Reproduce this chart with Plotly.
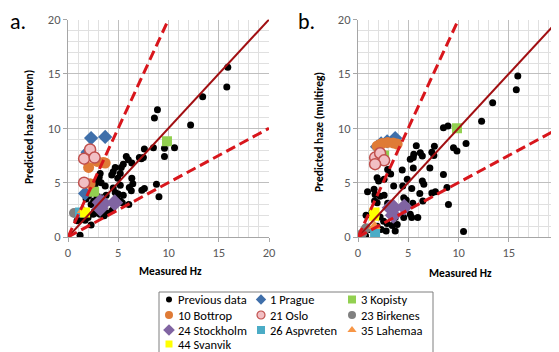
import plotly.graph_objects as go

# ---------------- data ----------------
# Panel a: neuron model
prev_a_x = [1.2, 2.3, 15.9, 15.8, 13.4, 8.9, 8.6, 12.2, 10.6, 9.6, 9.6, 8.5, 7.6, 7.5, 7.1,
            5.8, 6.0, 6.35, 5.5, 5.3, 4.7, 4.5, 5.2, 4.35, 4.95, 3.2, 3.1, 2.9, 3.3, 3.7,
            6.35, 6.45, 6.1, 6.3, 7.35, 7.6, 8.8, 9.05, 4.5, 4.7, 5.0, 5.2, 5.5, 4.85, 5.2,
            5.4, 6.05, 4.4, 3.8, 3.4, 2.9, 2.55, 2.3, 2.05, 1.8, 2.65, 2.5, 2.9, 3.2, 3.6,
            3.9, 2.0, 1.7, 1.2, 0.9, 2.7, 7.3, 3.0]
prev_a_y = [0.15, 1.1, 15.6, 13.8, 12.9, 11.7, 10.95, 10.3, 8.2, 8.15, 7.4, 8.2, 8.1, 7.3, 7.3,
            7.4, 7.1, 6.8, 6.7, 6.4, 6.4, 6.0, 5.85, 5.7, 5.4, 5.85, 5.5, 5.2, 5.0, 4.7,
            5.4, 4.9, 4.55, 4.25, 4.3, 4.45, 4.85, 3.7, 4.5, 4.1, 3.95, 4.75, 3.85, 3.6, 3.3,
            3.15, 3.0, 2.45, 3.85, 3.6, 3.75, 3.3, 3.0, 3.8, 3.5, 2.4, 2.1, 2.2, 2.1, 1.95,
            2.2, 1.8, 1.55, 1.6, 1.5, 4.85, 7.2, 2.8]

prague_a_x = [2.3, 3.7, 1.95, 1.7]
prague_a_y = [9.1, 9.2, 7.8, 4.0]
kopisty_a_x = [9.85, 2.6]
kopisty_a_y = [8.8, 4.15]
bottrop_a_x = [2.05, 2.9, 3.7, 3.5, 2.2]
bottrop_a_y = [6.4, 6.95, 6.8, 6.85, 4.9]
oslo_a_x = [1.6, 2.2, 2.65, 1.6]
oslo_a_y = [7.2, 8.05, 7.3, 5.0]
birkenes_a_x = [0.6]
birkenes_a_y = [2.2]
stockholm_a_x = [3.2, 3.5, 3.2, 4.65]
stockholm_a_y = [3.2, 3.1, 2.65, 3.15]
aspvreten_a_x = [1.2]
aspvreten_a_y = [2.25]
lahemaa_a_x = [1.5]
lahemaa_a_y = [2.45]
svanvik_a_x = [1.7]
svanvik_a_y = [2.25]

# Panel b: multiple regression model
prev_b_x = [15.9, 15.75, 13.4, 12.3, 8.95, 8.5, 10.75, 9.5, 9.85, 7.6, 7.35, 7.55, 5.8, 6.2,
            6.4, 5.55, 5.2, 7.15, 4.4, 5.5, 2.95, 3.25, 1.9, 2.05, 2.6, 4.9, 4.45, 3.55, 6.4,
            6.55, 8.5, 8.85, 9.0, 10.5, 7.35, 7.7, 6.15, 6.45, 5.35, 5.45, 4.55, 4.8, 5.2,
            5.35, 5.95, 4.55, 0.95, 1.6, 1.7, 2.2, 2.6, 1.65, 1.9, 2.95, 3.2, 0.8, 1.4, 2.2,
            2.55, 2.9, 3.4, 3.7, 2.8, 2.3, 1.9, 3.9, 3.7, 0.75, 1.15, 5.5]
prev_b_y = [14.8, 13.55, 12.35, 10.65, 10.2, 10.05, 8.6, 8.2, 7.9, 8.35, 7.8, 7.5, 8.4, 7.75,
            7.45, 7.6, 7.15, 6.35, 6.15, 6.35, 6.2, 5.8, 5.45, 5.15, 5.3, 5.3, 4.7, 4.7, 5.15,
            4.85, 5.75, 4.55, 3.0, 0.5, 4.05, 4.15, 4.0, 3.3, 4.45, 3.1, 3.6, 3.4, 2.1,
            1.8, 1.8, 1.8, 4.15, 4.4, 3.9, 3.75, 3.85, 3.3, 3.15, 3.1, 2.55, 2.0, 2.3, 1.85,
            1.45, 1.25, 1.05, 0.55, 0.55, 0.7, 1.0, 1.15, 1.8, 0.1, 0.7, 7.3]

prague_b_x = [2.3, 1.9, 3.7, 2.9]
prague_b_y = [8.6, 8.3, 9.1, 8.8]
kopisty_b_x = [9.85, 2.6]
kopisty_b_y = [10.0, 7.5]
bottrop_b_x = [1.9, 2.4, 2.95, 3.5, 3.9, 2.1]
bottrop_b_y = [8.35, 8.6, 8.7, 8.65, 8.55, 8.45]
oslo_b_x = [1.7, 2.2, 2.6, 1.7]
oslo_b_y = [7.3, 7.7, 7.05, 6.7]
birkenes_b_x = [0.4, 0.8]
birkenes_b_y = [0.3, 0.8]
stockholm_b_x = [3.2, 3.55, 3.5, 4.6]
stockholm_b_y = [2.7, 2.7, 2.0, 2.75]
aspvreten_b_x = [1.7]
aspvreten_b_y = [0.4]
lahemaa_b_x = [1.65]
lahemaa_b_y = [1.0]
svanvik_b_x = [1.65, 1.6]
svanvik_b_y = [2.25, 1.95]

# Reference lines (1:1, 2:1, 1:2)
line_11_x = [0, 20]
line_11_y = [0, 20]
line_21_x = [0, 10]
line_21_y = [0, 20]
line_12_x = [0, 20]
line_12_y = [0, 10]

axis_ticks = [0, 5, 10, 15, 20]
legend_labels = ["Previous data", "1 Prague", "3 Kopisty", "10 Bottrop", "21 Oslo",
                 "23 Birkenes", "24 Stockholm", "26 Aspvreten", "35 Lahemaa", "44 Svanvik"]

# ---------------- styles ----------------
FONT = "Carlito, Lato, Liberation Sans, sans-serif"
PAGE_W, PAGE_H = 559, 352
OFF = 8                      # default page body margin
W, H = PAGE_W - OFF, PAGE_H - OFF

series_style = {
    "Previous data": dict(symbol="circle", color="#000000", size=7, line=dict(width=0)),
    "1 Prague": dict(symbol="diamond", color="#3F6FAA", size=11, line=dict(width=0)),
    "3 Kopisty": dict(symbol="square", color="#92D050", size=10, line=dict(width=0)),
    "10 Bottrop": dict(symbol="circle", color="#DF7B36", size=11, line=dict(width=0)),
    "21 Oslo": dict(symbol="circle", color="#F2BFC4", size=11, line=dict(width=1.5, color="#C0504D")),
    "23 Birkenes": dict(symbol="circle", color="#808080", size=10, line=dict(width=0)),
    "24 Stockholm": dict(symbol="diamond", color="#8064A2", size=13, line=dict(width=0)),
    "26 Aspvreten": dict(symbol="square", color="#4BACC6", size=10, line=dict(width=0)),
    "35 Lahemaa": dict(symbol="triangle-up", color="#F79646", size=11, line=dict(width=0)),
    "44 Svanvik": dict(symbol="square", color="#FFFF00", size=10, line=dict(width=0)),
}

panel_a = {
    "Previous data": (prev_a_x, prev_a_y), "1 Prague": (prague_a_x, prague_a_y),
    "3 Kopisty": (kopisty_a_x, kopisty_a_y), "10 Bottrop": (bottrop_a_x, bottrop_a_y),
    "21 Oslo": (oslo_a_x, oslo_a_y), "23 Birkenes": (birkenes_a_x, birkenes_a_y),
    "24 Stockholm": (stockholm_a_x, stockholm_a_y), "26 Aspvreten": (aspvreten_a_x, aspvreten_a_y),
    "35 Lahemaa": (lahemaa_a_x, lahemaa_a_y), "44 Svanvik": (svanvik_a_x, svanvik_a_y),
}
panel_b = {
    "Previous data": (prev_b_x, prev_b_y), "1 Prague": (prague_b_x, prague_b_y),
    "3 Kopisty": (kopisty_b_x, kopisty_b_y), "10 Bottrop": (bottrop_b_x, bottrop_b_y),
    "21 Oslo": (oslo_b_x, oslo_b_y), "23 Birkenes": (birkenes_b_x, birkenes_b_y),
    "24 Stockholm": (stockholm_b_x, stockholm_b_y), "26 Aspvreten": (aspvreten_b_x, aspvreten_b_y),
    "35 Lahemaa": (lahemaa_b_x, lahemaa_b_y), "44 Svanvik": (svanvik_b_x, svanvik_b_y),
}

fig = go.Figure()

draw_order = ["Previous data", "23 Birkenes", "1 Prague", "3 Kopisty", "10 Bottrop", "21 Oslo",
              "24 Stockholm", "26 Aspvreten", "35 Lahemaa", "44 Svanvik"]

for panel, (xa, ya) in ((panel_a, ("x", "y")), (panel_b, ("x2", "y2"))):
    for name in draw_order:
        px, py = panel[name]
        st = series_style[name]
        fig.add_trace(go.Scatter(
            x=px, y=py, mode="markers", name=name, xaxis=xa, yaxis=ya, showlegend=False,
            marker=dict(symbol=st["symbol"], color=st["color"], size=st["size"], line=st["line"]),
        ))
    fig.add_trace(go.Scatter(x=line_11_x, y=line_11_y, mode="lines", xaxis=xa, yaxis=ya,
                             showlegend=False, line=dict(color="#A10F12", width=2)))
    for lx, ly in ((line_21_x, line_21_y), (line_12_x, line_12_y)):
        fig.add_trace(go.Scatter(x=lx, y=ly, mode="lines", xaxis=xa, yaxis=ya, showlegend=False,
                                 line=dict(color="#D8161C", width=3, dash="10px,5px")))


# page-pixel helpers (reference coordinates -> paper fractions)
def px_x(p):
    return (p - OFF) / W


def px_y(p):
    return 1 - (p - OFF) / H


# ---------------- legend (drawn on a hidden axis) ----------------
leg_left, leg_right, leg_top = 159, 433, 292
col_x = [10, 102, 193]
row_y = [7.5, 23, 38, 52]
annotations = []
for i, name in enumerate(legend_labels):
    r, c = divmod(i, 3)
    st = series_style[name]
    lsize = {"Previous data": 6, "24 Stockholm": 9, "44 Svanvik": 7}.get(name, 8)
    fig.add_trace(go.Scatter(
        x=[col_x[c]], y=[row_y[r]], mode="markers", xaxis="x3", yaxis="y3", showlegend=False,
        marker=dict(symbol=st["symbol"], color=st["color"], size=lsize,
                    line=dict(width=1.2, color="#C0504D") if name == "21 Oslo" else dict(width=0)),
        cliponaxis=False,
    ))
    annotations.append(dict(x=col_x[c] + 7, y=row_y[r], xref="x3", yref="y3", text=name,
                            showarrow=False, xanchor="left", yanchor="middle",
                            font=dict(family=FONT, size=12.5, color="#000000")))

# ---------------- axes ----------------
common_axis = dict(
    range=[0, 20], tickvals=axis_ticks, showgrid=True, gridcolor="#BFBFBF", gridwidth=1,
    minor=dict(dtick=1, showgrid=True, gridcolor="#E0E0E0", gridwidth=1),
    zeroline=False, showline=True, linecolor="#A6A6A6", linewidth=1,
    ticks="outside", ticklen=4, tickcolor="#A6A6A6",
    tickfont=dict(family=FONT, size=12.5, color="#595959"), automargin=False, fixedrange=True,
)

ydom = [px_y(237), px_y(19.5)]
fig.update_layout(
    width=W, height=H, margin=dict(l=0, r=0, t=0, b=0),
    paper_bgcolor="white", plot_bgcolor="white", showlegend=False,
    xaxis=dict(domain=[px_x(68), px_x(269)], anchor="y", **common_axis),
    yaxis=dict(domain=ydom, anchor="x", **common_axis),
    xaxis2=dict(domain=[px_x(358), 1.0], anchor="y2", **common_axis),
    yaxis2=dict(domain=ydom, anchor="x2", **common_axis),
    xaxis3=dict(domain=[px_x(leg_left), px_x(leg_right)], range=[0, leg_right - leg_left],
                visible=False, anchor="y3", fixedrange=True),
    yaxis3=dict(domain=[0, px_y(leg_top)], range=[PAGE_H - leg_top, 0], visible=False,
                anchor="x3", fixedrange=True),
    shapes=[dict(type="rect", xref="paper", yref="paper", x0=px_x(leg_left), x1=px_x(leg_right),
                 y0=-0.05, y1=px_y(leg_top), line=dict(color="#7F7F7F", width=1),
                 fillcolor="rgba(0,0,0,0)", layer="below")],
)

title_font = dict(family=FONT, size=11.5, color="#000000")
annotations += [
    dict(x=px_x(8), y=px_y(22), xref="paper", yref="paper", text="a.", showarrow=False,
         xanchor="left", yanchor="middle", font=dict(family=FONT, size=22, color="#000000")),
    dict(x=px_x(296), y=px_y(22), xref="paper", yref="paper", text="b.", showarrow=False,
         xanchor="left", yanchor="middle", font=dict(family=FONT, size=22, color="#000000")),
    dict(x=px_x(170), y=px_y(271), xref="paper", yref="paper", text="<b>Measured Hz</b>",
         showarrow=False, xanchor="center", yanchor="middle", font=title_font),
    dict(x=px_x(460), y=px_y(273), xref="paper", yref="paper", text="<b>Measured Hz</b>",
         showarrow=False, xanchor="center", yanchor="middle", font=title_font),
    dict(x=px_x(29), y=px_y(127), xref="paper", yref="paper",
         text="<b>Predicted haze (neuron)</b>", textangle=-90,
         showarrow=False, xanchor="center", yanchor="middle", font=title_font),
    dict(x=px_x(319), y=px_y(132), xref="paper", yref="paper",
         text="<b>Predicted haze (multireg)</b>", textangle=-90,
         showarrow=False, xanchor="center", yanchor="middle", font=title_font),
]
fig.update_layout(annotations=annotations)

fig.write_html("out.html")
